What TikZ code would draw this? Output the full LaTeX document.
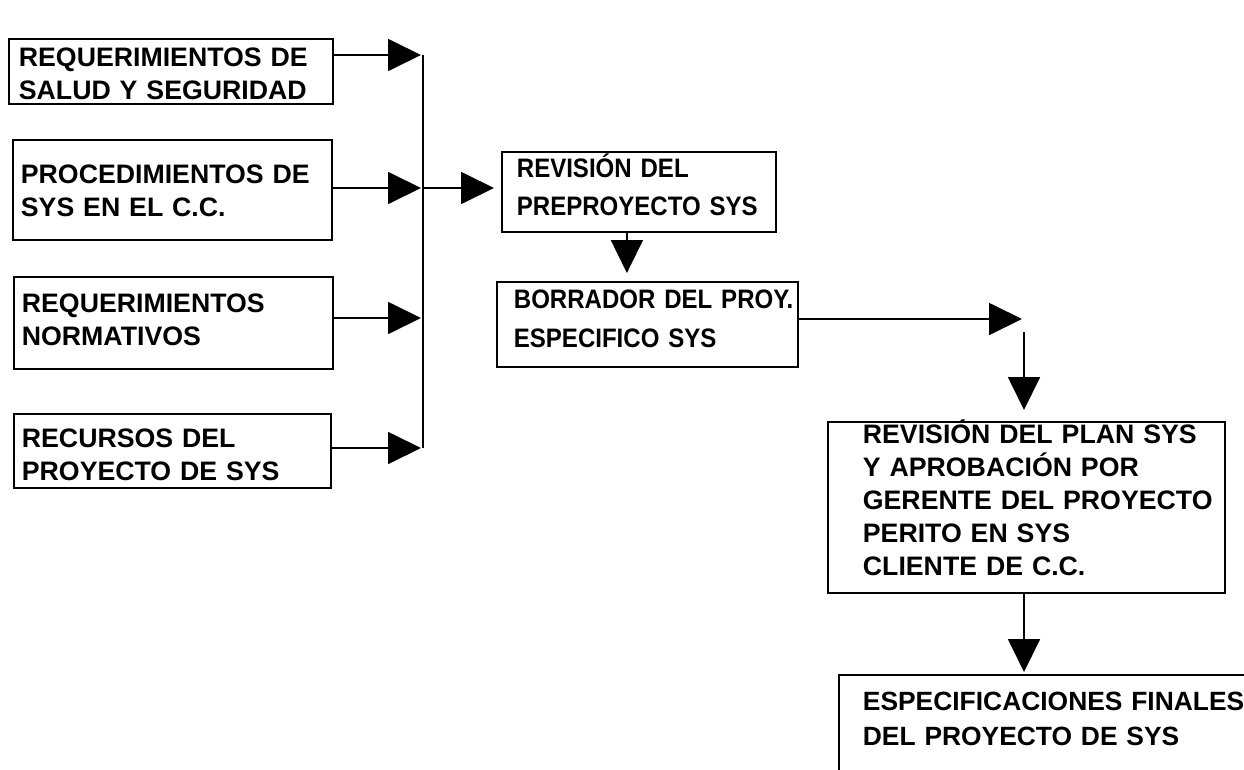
\documentclass[tikz,border=0pt]{standalone}
\usepackage{fontspec}
\setmainfont{Liberation Sans}
\newfontfamily\estrecha[FakeStretch=0.9]{Liberation Sans}
\usetikzlibrary{arrows.meta}

\begin{document}
\begin{tikzpicture}[x=1pt,y=-1pt,
        caja/.style={draw,line width=1.8pt,anchor=north west,align=left,
            inner xsep=8pt,inner ysep=0pt,
            font=\bfseries\fontsize{26.7}{33}\selectfont},
        chica/.style={font=\estrecha\bfseries\fontsize{26.7}{38}\selectfont},
        lineas/.style={text height=19pt,text depth=#1},
        flecha/.style={line width=1.8pt,-{Triangle[length=33pt 0 0,width=32pt 0 0]}},
        linea/.style={line width=1.8pt}]

    \useasboundingbox (0,0) rectangle (1244,769);

    % entradas
    \node[caja,lineas=29pt,inner xsep=10pt,text width=304pt,minimum height=65pt] (salud) at (8,38)
        {REQUERIMIENTOS DE\\SALUD Y SEGURIDAD};
    \node[caja,lineas=32pt,text width=303pt,minimum height=100pt] (proc) at (12,139)
        {PROCEDIMIENTOS DE\\SYS EN EL C.C.};
    \node[caja,lineas=40pt,text width=303pt,minimum height=92pt] (norma) at (13,276)
        {REQUERIMIENTOS\\NORMATIVOS};
    \node[caja,lineas=26pt,text width=301pt,minimum height=74pt] (recur) at (13,413)
        {RECURSOS DEL\\PROYECTO DE SYS};

    % etapas
    \node[caja,chica,lineas=48pt,inner xsep=15pt,text width=244pt,minimum height=80pt] (rev) at (501,151)
        {REVISIÓN DEL\\PREPROYECTO SYS};
    \node[caja,chica,font=\estrecha\bfseries\fontsize{26.7}{39}\selectfont,lineas=51pt,
        inner xsep=17pt,text width=267pt,minimum height=85pt] (borr) at (496,281)
        {BORRADOR~DEL~PROY.\\ESPECIFICO SYS};
    \node[caja,lineas=147pt,inner xsep=35pt,text width=327pt,minimum height=171pt] (plan) at (827,421)
        {REVISIÓN~DEL~PLAN~SYS\\Y~APROBACIÓN~POR\\GERENTE~DEL~PROYECTO\\PERITO EN SYS\\CLIENTE DE C.C.};
    \node[caja,draw=none,lineas=44pt,inner xsep=23pt,text width=390pt,minimum height=94pt,
        font=\bfseries\fontsize{26.4}{35}\selectfont] (fin) at (839,675)
        {ESPECIFICACIONES FINALES\\DEL PROYECTO DE SYS};
    \draw[linea] (fin.north east) -- (fin.north west) -- (fin.south west);

    % barra colectora
    \coordinate (b1) at (423,55);
    \coordinate (b2) at (423,188);
    \coordinate (b3) at (423,318);
    \coordinate (b4) at (423,448);
    \draw[linea] (b1) -- (b4);
    \draw[flecha] (salud.east |- b1) -- ([xshift=-2pt]b1);
    \draw[flecha] (proc.east |- b2) -- ([xshift=-2pt]b2);
    \draw[flecha] (norma.east |- b3) -- ([xshift=-2pt]b3);
    \draw[flecha] (recur.east |- b4) -- ([xshift=-2pt]b4);
    \draw[flecha,shorten >=7pt] (b2) -- (rev.west |- b2);

    % flujo
    \draw[flecha,shorten >=8pt] ([xshift=-12pt]rev.south) -- ([xshift=-12pt]rev.south |- borr.north);
    \coordinate (codo) at (1024,319);
    \draw[flecha] (borr.east |- codo) -- ([xshift=-2pt]codo);
    \draw[flecha,shorten >=11pt] ([yshift=-13pt]codo) -- (codo |- plan.north);
    \draw[flecha,shorten >=3pt] (codo |- plan.south) -- (codo |- fin.north);
\end{tikzpicture}
\end{document}
